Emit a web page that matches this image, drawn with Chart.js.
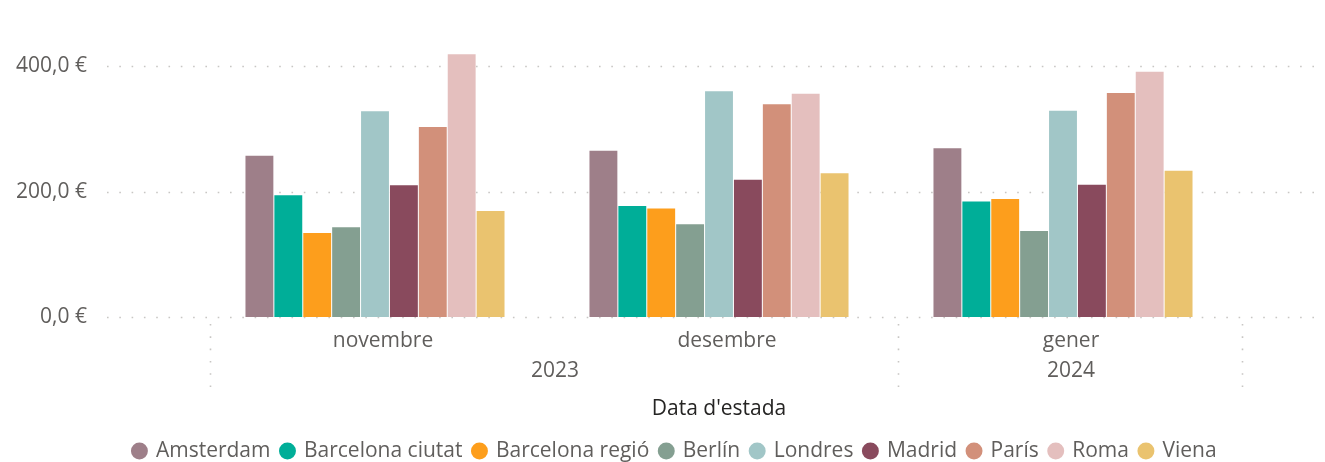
<!DOCTYPE html>
<html><head><meta charset="utf-8">
<script src="https://cdn.jsdelivr.net/npm/chart.js@4"></script>
<style>html,body{margin:0;padding:0;background:#fff}#wrap{width:1325px;height:462px;position:relative}</style>
</head><body><div id="wrap"><canvas id="c" width="1325" height="462"></canvas></div>
<script>
// ---- data ----
const months = ['novembre', 'desembre', 'gener'];
const years = ['2023', '2023', '2024'];
const cities = ['Amsterdam', 'Barcelona ciutat', 'Barcelona regió', 'Berlín', 'Londres', 'Madrid', 'París', 'Roma', 'Viena'];
const amsterdam = [257, 265, 269];
const barcelonaCiutat = [194, 177, 184];
const barcelonaRegio = [134, 173, 188];
const berlin = [143, 148, 137];
const londres = [328, 360, 329];
const madrid = [210, 219, 211];
const paris = [303, 339, 357];
const roma = [419, 356, 391];
const viena = [169, 229, 233];
const yTicks = [0, 200, 400];
const cityColors = ['#9E7F89', '#00AE98', '#FD9E1C', '#849F91', '#A1C6C7', '#894A5D', '#D2907A', '#E4BFBE', '#EAC36F'];

const seriesValues = [amsterdam, barcelonaCiutat, barcelonaRegio, berlin, londres, madrid, paris, roma, viena];
const FONT = "'Segoe UI', 'Open Sans', sans-serif";
const FS = 21;
const LABEL_SHIFT = 8;

const fmt = v => v.toFixed(1).replace('.', ',') + ' €';

const decor = {
  id: 'decor',
  beforeDatasetsDraw(chart) {
    const { ctx, scales: { x, y } } = chart;
    ctx.save();
    ctx.strokeStyle = '#c8c6c4';
    ctx.lineWidth = 1.6;
    ctx.setLineDash([1.6, 10.7]);
    yTicks.forEach(v => {
      const py = Math.round(y.getPixelForValue(v)) + 0.5;
      ctx.beginPath();
      ctx.moveTo(x.left - 96, py);
      ctx.lineTo(x.right + 85, py);
      ctx.stroke();
    });
    const seps = [x.left];
    for (let i = 1; i < years.length; i++) {
      if (years[i] !== years[i - 1]) seps.push((x.getPixelForValue(i - 1) + x.getPixelForValue(i)) / 2);
    }
    seps.push(x.right);
    seps.forEach(px => {
      const xx = Math.round(px + LABEL_SHIFT - 1) + 0.5;
      ctx.beginPath();
      ctx.moveTo(xx, x.top + 7);
      ctx.lineTo(xx, x.top + 70);
      ctx.stroke();
    });
    ctx.restore();
  },
  afterDraw(chart) {
    const { ctx, scales: { x } } = chart;
    ctx.save();
    ctx.font = FS + 'px ' + FONT;
    ctx.fillStyle = '#605E5C';
    ctx.textAlign = 'center';
    ctx.textBaseline = 'middle';
    [...new Set(years)].forEach(yr => {
      const idx = years.map((v, i) => v === yr ? i : -1).filter(i => i >= 0);
      const cx = idx.reduce((s, i) => s + x.getPixelForValue(i), 0) / idx.length + LABEL_SHIFT;
      ctx.fillText(yr, cx, x.top + 54);
    });
    ctx.restore();
  }
};

new Chart(document.getElementById('c'), {
  type: 'bar',
  data: {
    labels: months,
    datasets: cities.map((c, i) => ({
      label: c,
      data: seriesValues[i],
      backgroundColor: cityColors[i],
      borderWidth: 0,
      barPercentage: 0.965,
      categoryPercentage: 0.756,
      yAxisID: 'y'
    }))
  },
  options: {
    responsive: false,
    animation: false,
    layout: { padding: { top: 41, right: -25, left: 0, bottom: -9.5 } },
    plugins: {
      legend: {
        position: 'bottom',
        labels: {
          usePointStyle: true, pointStyle: 'circle',
          boxWidth: 12, boxHeight: 12, padding: 11,
          font: { family: FONT, size: FS }, color: '#605E5C'
        }
      },
      tooltip: { enabled: false }
    },
    scales: {
      x: {
        grid: { display: false, drawTicks: false }, border: { display: false },
        ticks: { font: { family: FONT, size: FS }, color: '#605E5C', padding: 11, labelOffset: LABEL_SHIFT },
        title: { display: true, text: "Data d'estada", font: { family: FONT, size: FS }, color: '#252423', padding: { top: 0, bottom: 8 } },
        afterFit(s) { s.height = 112.5; }
      },
      y: {
        min: 0, max: 440,
        grid: { display: false, drawTicks: false }, border: { display: false },
        ticks: { font: { family: FONT, size: FS }, color: '#605E5C', padding: 116, callback: v => fmt(v) },
        afterBuildTicks(s) { s.ticks = yTicks.map(v => ({ value: v })); },
        afterFit(s) { s.width = 203; s.paddingTop = 0; s.paddingBottom = 0; }
      },
      yPad: {
        position: 'right', display: true,
        grid: { display: false, drawTicks: false }, border: { display: false },
        ticks: { display: false },
        afterFit(s) { s.width = 115; s.paddingTop = 0; s.paddingBottom = 0; }
      }
    }
  },
  plugins: [decor]
});
</script></body></html>
